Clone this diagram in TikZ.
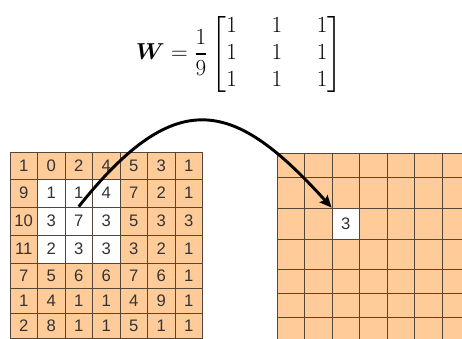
\documentclass[tikz,border=0pt]{standalone}
\usepackage{amsmath}
\usepackage{amssymb}
\usepackage{bm}
\usepackage{fontspec}
\newfontfamily\cellfont{Liberation Sans}
\usetikzlibrary{arrows.meta}
\definecolor{peach}{RGB}{255,204,153}
\definecolor{gridline}{RGB}{85,70,58}

\begin{document}
\begin{tikzpicture}[
  x=0.75pt, y=-0.75pt,
  cell/.style={draw=gridline, line width=0.6pt, fill=peach,
               minimum width=20.625pt, inner sep=0pt,
               font=\cellfont\fontsize{12.5}{14}\selectfont, text=black!80},
  slide/.style={-{Stealth[length=9pt, width=8pt, inset=1.5pt]},
                line width=2.2pt},
  formula/.style={font=\fontsize{19}{20.5}\selectfont}
]
  \useasboundingbox (0,0) rectangle (462,339);
  \clip (0,0) rectangle (462,339);

  % Averaging filter
  \node[formula] (filter) at (239,54)
    {\setlength\arraycolsep{13pt}%
     $\bm{W} = \dfrac{1}{9}\begin{bmatrix}1&1&1\\1&1&1\\1&1&1\end{bmatrix}$};

  % Input image, 3x3 window in white
  \foreach \r/\ya/\yb/\vals in {0/152.5/179/{1,0,2,4,5,3,1},
                                1/179/207/{9,1,1,4,7,2,1},
                                2/207/235/{10,3,7,3,5,3,3},
                                3/235/263/{11,2,3,3,3,2,1},
                                4/263/288/{7,5,6,6,7,6,1},
                                5/288/313.5/{1,4,1,1,4,9,1},
                                6/313.5/338/{2,8,1,1,5,1,1}}{
    \foreach \v [count=\c from 0] in \vals {
      \pgfmathsetmacro\xc{23.75+27.5*\c}
      \pgfmathsetmacro\yc{(\ya+\yb)/2}
      \pgfmathsetmacro\h{(\yb-\ya)*0.75}
      \pgfmathtruncatemacro\win{(\r>0)*(\r<4)*(\c>0)*(\c<4)}
      \ifnum\win=1 \def\bg{white}\else\def\bg{peach}\fi
      \node[cell, fill=\bg, minimum height=\h pt] (in-\r-\c) at (\xc,\yc) {\v};
    }
  }

  % Output image
  \foreach \r/\ya/\yb in {0/153/177.5, 1/177.5/208, 2/208/239, 3/239/269,
                          4/269/293, 5/293/317, 6/317/341}{
    \foreach \c in {0,...,6}{
      \pgfmathsetmacro\xc{290.75+27.5*\c}
      \pgfmathsetmacro\yc{(\ya+\yb)/2}
      \pgfmathsetmacro\h{(\yb-\ya)*0.75}
      \pgfmathtruncatemacro\hit{(\r==2)*(\c==2)}
      \ifnum\hit=1 \def\bg{white}\def\txt{3}\else\def\bg{peach}\def\txt{}\fi
      \node[cell, fill=\bg, minimum height=\h pt] (out-\r-\c) at (\xc,\yc) {\txt};
    }
  }

  \draw[slide] (in-2-2.north) .. controls (178,82) and (236,102) .. (out-2-2.north west);
\end{tikzpicture}
\end{document}
